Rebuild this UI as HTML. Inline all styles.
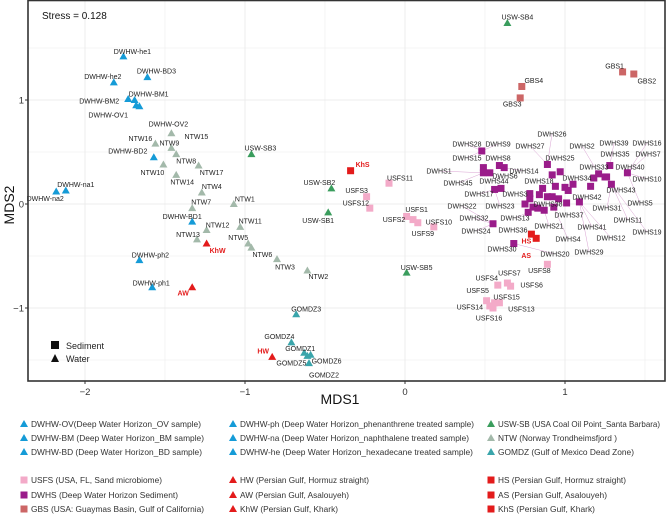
<!DOCTYPE html>
<html><head><meta charset="utf-8"><style>
body{margin:0;background:#fff;}
svg{display:block;font-family:"Liberation Sans",Arial,sans-serif;}
</style></head><body>
<svg id="chart" width="668" height="516" viewBox="0 0 668 516" xmlns="http://www.w3.org/2000/svg">
<rect x="0" y="0" width="668" height="516" fill="#fff"/>
<g id="grid"></g>
<g id="leaders"></g>
<g id="marks"></g>
<g id="labels"></g>
<rect x="28" y="0.5" width="637" height="380.5" fill="none" stroke="#333" stroke-width="1.6"/>
<text x="42" y="19" font-size="10" fill="#111">Stress = 0.128</text>
<g id="axes"></g>
<text x="340" y="404" font-size="14" text-anchor="middle" fill="#111">MDS1</text>
<text transform="translate(14,205) rotate(-90)" font-size="14" text-anchor="middle" fill="#111">MDS2</text>
<g>
<rect x="51" y="341" width="8" height="8" fill="#111"/>
<text x="66" y="349" font-size="9" fill="#222">Sediment</text>
<polygon points="55,354 59,362 51,362" fill="#111"/>
<text x="66" y="362" font-size="9" fill="#222">Water</text>
</g>
<g id="legend"></g>
</svg>
<script>
// ---- data ----
const waterNames = ["DWHW-he1","DWHW-he2","DWHW-BD3","DWHW-BM2","DWHW-BM1","DWHW-OV1","DWHW-OV2","NTW15","NTW16","NTW9","NTW8","DWHW-BD2","NTW17","NTW10","NTW14","USW-SB3","DWHW-na1","DWHW-na2","NTW4","NTW7","NTW1","USW-SB2","USW-SB1","DWHW-BD1","NTW12","NTW11","NTW13","KhW","NTW5","NTW6","NTW3","NTW2","DWHW-ph2","DWHW-ph1","AW","GOMDZ3","GOMDZ4","HW","GOMDZ1","GOMDZ5","GOMDZ6","GOMDZ2","USW-SB4","USW-SB5"];
const waterX = [-1.76,-1.82,-1.61,-1.73,-1.69,-1.68,-1.66,-1.46,-1.56,-1.46,-1.43,-1.57,-1.29,-1.51,-1.43,-0.96,-2.12,-2.18,-1.27,-1.33,-1.07,-0.46,-0.48,-1.33,-1.24,-1.03,-1.30,-1.24,-0.98,-0.96,-0.80,-0.61,-1.66,-1.58,-1.33,-0.68,-0.71,-0.83,-0.63,-0.61,-0.59,-0.60,0.64,0.01];
const waterY = [1.42,1.17,1.22,1.01,1.00,0.95,0.94,0.68,0.58,0.54,0.48,0.45,0.37,0.38,0.28,0.48,0.13,0.12,0.11,-0.04,0.00,0.15,-0.08,-0.17,-0.25,-0.22,-0.34,-0.38,-0.38,-0.42,-0.53,-0.64,-0.54,-0.80,-0.80,-1.06,-1.33,-1.47,-1.43,-1.46,-1.45,-1.53,1.74,-0.66];
const sedNames = ["GBS1","GBS2","GBS4","GBS3","KhS","USFS11","USFS3","USFS12","USFS1","USFS2","USFS9","USFS10","HS","AS","USFS8","USFS7","USFS6","USFS4","USFS5","USFS15","USFS13","USFS16","USFS14"];
const sedX = [1.36,1.43,0.73,0.72,-0.34,-0.10,-0.24,-0.22,0.01,0.05,0.08,0.18,0.79,0.82,0.89,0.64,0.66,0.58,0.51,0.56,0.59,0.55,0.53];
const sedY = [1.27,1.25,1.13,1.02,0.32,0.20,0.07,-0.04,-0.12,-0.15,-0.18,-0.22,-0.29,-0.33,-0.58,-0.76,-0.79,-0.78,-0.93,-0.95,-0.95,-1.00,-0.98];
const dwhsX = [0.48,0.59,0.62,0.49,0.49,0.53,0.56,0.60,0.89,0.97,0.92,0.94,1.00,1.02,1.05,0.86,0.84,0.78,0.78,0.75,0.80,0.83,0.87,0.89,0.92,0.96,1.01,0.93,0.77,1.09,1.16,1.18,1.21,1.25,1.28,1.26,1.29,1.39,0.55,0.68];
const dwhsY = [0.51,0.37,0.35,0.35,0.30,0.30,0.14,0.15,0.38,0.31,0.28,0.17,0.16,0.13,0.19,0.15,0.09,0.10,0.05,0.00,-0.03,-0.04,-0.06,0.07,0.07,0.05,0.01,-0.03,-0.08,0.02,0.17,0.25,0.29,0.26,0.37,0.26,0.19,0.30,-0.19,-0.38];
const xTicks = [-2,-1,0,1];
const yTicks = [-1,0,1];

// ---- layout (not data) ----
const waterOff = [[9,-5],[-11,-6],[9,-6],[-29,2],[14,-6],[-28,10],[29,18],[25,3],[-15,-5],[-2,-5],[10,7],[-26,-6],[13,7],[-11,8],[6,7],[9,-6],[10,-6],[-11,7],[10,-6],[9,-6],[11,-5],[-12,-6],[-10,8],[-10,-5],[11,-5],[10,-6],[-9,-5],[11,7],[-10,-6],[11,7],[8,8],[11,6],[11,-5],[-1,-4],[-9,6],[10,-5],[-12,-6],[-9,-6],[-4,-4],[-16,7],[16,6],[15,12],[10,-6],[10,-5]];
const sedOff = [[-8,-6],[13,7],[12,-6],[-8,6],[12,-6],[11,-5],[-10,-6],[-14,-5],[10,-7],[-19,0],[5,11],[5,-5],[-5,7],[-10,17],[-8,6],[2,-10],[21,-1],[-11,-7],[-9,-10],[12,-6],[22,6],[-4,10],[-20,1]];
const dwhsLabels = [["DWHS28",467,144],["DWHS9",498,144],["DWHS27",530,146],["DWHS26",552,134],["DWHS2",582,146],["DWHS39",614,143],["DWHS16",647,143],["DWHS15",467,158],["DWHS8",498,158],["DWHS25",560,158],["DWHS35",615,154],["DWHS7",648,154],["DWHS1",439,171],["DWHS6",505,176],["DWHS14",524,171],["DWHS33",594,167],["DWHS40",630,167],["DWHS45",458,183],["DWHS44",494,181],["DWHS18",539,181],["DWHS34",577,178],["DWHS10",647,179],["DWHS17",479,194],["DWHS3",515,194],["DWHS43",621,190],["DWHS42",587,197],["DWHS5",640,203],["DWHS22",462,206],["DWHS23",500,206],["DWHS38",548,204],["DWHS31",607,208],["DWHS37",569,215],["DWHS32",474,218],["DWHS13",515,218],["DWHS11",628,220],["DWHS41",592,227],["DWHS24",476,231],["DWHS36",513,230],["DWHS21",549,226],["DWHS19",647,232],["DWHS4",568,239],["DWHS12",611,238],["DWHS30",502,249],["DWHS29",589,252],["DWHS20",555,254]];

const X0=405, SX=160, Y0=204, SY=104;
const sx = v => X0 + v*SX;
const sy = v => Y0 - v*SY;
const NS="http://www.w3.org/2000/svg";
function mk(tag, parent){const e=document.createElementNS(NS,tag);document.getElementById(parent).appendChild(e);return e;}

function waterColor(n){
  if(/^(HW|AW|KhW)$/.test(n)) return "#e31b1b";
  if(n.startsWith("DWHW")) return "#159bd7";
  if(n.startsWith("USW")) return "#3a9d5d";
  if(n.startsWith("NTW")) return "#a3b9aa";
  return "#3aa5ab";
}
function sedColor(n){
  if(/^(HS|AS|KhS)$/.test(n)) return "#e31b1b";
  if(n.startsWith("GBS")) return "#cc6666";
  return "#f3aac8";
}

for(let v=-2; v<=1.5; v+=0.5){
  const l=mk("line","grid");
  
  
  l.setAttribute("x1",sx(v));l.setAttribute("x2",sx(v));l.setAttribute("y1",0);l.setAttribute("y2",381);
  l.setAttribute("stroke","#ececec");l.setAttribute("stroke-width",Number.isInteger(v)?1:0.6);
}
for(let v=-1.5; v<=1.5; v+=0.5){
  const l=mk("line","grid");
  
  
  l.setAttribute("y1",sy(v));l.setAttribute("y2",sy(v));l.setAttribute("x1",28);l.setAttribute("x2",665);
  l.setAttribute("stroke","#ececec");l.setAttribute("stroke-width",Number.isInteger(v)?1:0.6);
}
xTicks.forEach(t=>{
  const l=mk("line","axes");
  
  
  l.setAttribute("x1",sx(t));l.setAttribute("x2",sx(t));l.setAttribute("y1",381);l.setAttribute("y2",384);l.setAttribute("stroke","#333");
  const tx=mk("text","axes");
  
  
  tx.setAttribute("x",sx(t));tx.setAttribute("y",395);tx.setAttribute("font-size","9.5");tx.setAttribute("text-anchor","middle");tx.setAttribute("fill","#333");
  tx.textContent = t<0 ? "\u2212"+(-t) : String(t);
});
yTicks.forEach(t=>{
  const l=mk("line","axes");
  
  
  l.setAttribute("x1",25);l.setAttribute("x2",28);l.setAttribute("y1",sy(t));l.setAttribute("y2",sy(t));l.setAttribute("stroke","#333");
  const tx=mk("text","axes");
  
  
  tx.setAttribute("x",24);tx.setAttribute("y",sy(t)+3.5);tx.setAttribute("font-size","9.5");tx.setAttribute("text-anchor","end");tx.setAttribute("fill","#333");
  tx.textContent = t<0 ? "\u2212"+(-t) : String(t);
});

function addLabel(name,x,y,color){
  const t=mk("text","labels");
  
  
  t.setAttribute("x",x);t.setAttribute("y",y+2.5);t.setAttribute("font-size","7");t.setAttribute("text-anchor","middle");
  t.setAttribute("fill",color);
  if(color!=="#222") t.setAttribute("font-weight","bold");
  t.textContent=name;
}
waterNames.forEach((n,i)=>{
  const x=sx(waterX[i]), y=sy(waterY[i]);
  const p=mk("polygon","marks");
  
  
  p.setAttribute("points",`${x},${y-4} ${x+4},${y+3} ${x-4},${y+3}`);
  p.setAttribute("fill",waterColor(n));
  const red = /^(HW|AW|KhW)$/.test(n);
  addLabel(n,x+waterOff[i][0],y+waterOff[i][1],red?"#e31b1b":"#222");
});
sedNames.forEach((n,i)=>{
  const x=sx(sedX[i]), y=sy(sedY[i]);
  const r=mk("rect","marks");
  
  
  r.setAttribute("x",x-3.5);r.setAttribute("y",y-3.5);r.setAttribute("width",7);r.setAttribute("height",7);
  r.setAttribute("fill",sedColor(n));
  const red = /^(HS|AS|KhS)$/.test(n);
  addLabel(n,x+sedOff[i][0],y+sedOff[i][1],red?"#e31b1b":"#222");
});
dwhsX.forEach((v,i)=>{
  const x=sx(v), y=sy(dwhsY[i]);
  const r=mk("rect","marks");
  
  
  r.setAttribute("x",x-3.5);r.setAttribute("y",y-3.5);r.setAttribute("width",7);r.setAttribute("height",7);
  r.setAttribute("fill","#9a1c8a");
});
dwhsLabels.forEach(l=>addLabel(l[0],l[1],l[2],"#222"));
dwhsLabels.forEach(l=>{
  let best=0,bd=1e9;
  dwhsX.forEach((v,i)=>{const d=(sx(v)-l[1])**2+(sy(dwhsY[i])-l[2])**2; if(d<bd){bd=d;best=i;}});
  if(bd>200){
    const ln=mk("line","leaders");
    
    
    ln.setAttribute("x1",l[1]);ln.setAttribute("y1",l[2]);ln.setAttribute("x2",sx(dwhsX[best]));ln.setAttribute("y2",sy(dwhsY[best]));
    ln.setAttribute("stroke","#d9a3d2");ln.setAttribute("stroke-width","0.5");
  }
});

// legend: [text, shape, colour, text end x]
const legendText = [
 ["DWHW-OV(Deep Water Horizon_OV sample)","tri","#159bd7",201],
 ["DWHW-BM (Deep Water Horizon_BM sample)","tri","#159bd7",204],
 ["DWHW-BD (Deep Water Horizon_BD sample)","tri","#159bd7",202],
 ["DWHW-ph (Deep Water Horizon_phenanthrene treated sample)","tri","#159bd7",474],
 ["DWHW-na (Deep Water Horizon_naphthalene treated sample)","tri","#159bd7",469],
 ["DWHW-he (Deep Water Horizon_hexadecane treated sample)","tri","#159bd7",473],
 ["USW-SB (USA Coal Oil Point_Santa Barbara)","tri","#3a9d5d",660],
 ["NTW (Norway Trondheimsfjord )","tri","#a3b9aa",617],
 ["GOMDZ (Gulf of Mexico Dead Zone)","tri","#3aa5ab",634],
 ["USFS (USA, FL, Sand microbiome)","sq","#f3aac8",162],
 ["DWHS (Deep Water Horizon Sediment)","sq","#9a1c8a",178],
 ["GBS (USA: Guaymas Basin, Gulf of California)","sq","#cc6666",204],
 ["HW (Persian Gulf, Hormuz straight)","tri","#e31b1b",369],
 ["AW (Persian Gulf, Asalouyeh)","tri","#e31b1b",349],
 ["KhW (Persian Gulf, Khark)","tri","#e31b1b",338],
 ["HS (Persian Gulf, Hormuz straight)","sq","#e31b1b",626],
 ["AS (Persian Gulf, Asalouyeh)","sq","#e31b1b",607],
 ["KhS (Persian Gulf, Khark)","sq","#e31b1b",595]
];
const colX=[24,233,491], rowY=[424,438,452,480,495,509];
legendText.forEach((e,i)=>{
  const block=Math.floor(i/9), k=i%9, col=Math.floor(k/3), row=k%3+block*3;
  const x=colX[col], y=rowY[row];
  const g=mk("g","legend");
  
  
  let m;
  if(e[1]==="tri"){m=document.createElementNS(NS,"polygon");m.setAttribute("points",`${x},${y-4} ${x+4},${y+3} ${x-4},${y+3}`);}
  else {m=document.createElementNS(NS,"rect");m.setAttribute("x",x-3.5);m.setAttribute("y",y-3.5);m.setAttribute("width",7);m.setAttribute("height",7);}
  m.setAttribute("fill",e[2]);g.appendChild(m);
  const t=document.createElementNS(NS,"text");
  t.setAttribute("x",x+7);t.setAttribute("y",y+3);t.setAttribute("font-size","8.6");t.setAttribute("fill","#333");
  t.setAttribute("textLength",e[3]-(x+7));t.setAttribute("lengthAdjust","spacingAndGlyphs");
  t.textContent=e[0];g.appendChild(t);
});
</script>
</body></html>
